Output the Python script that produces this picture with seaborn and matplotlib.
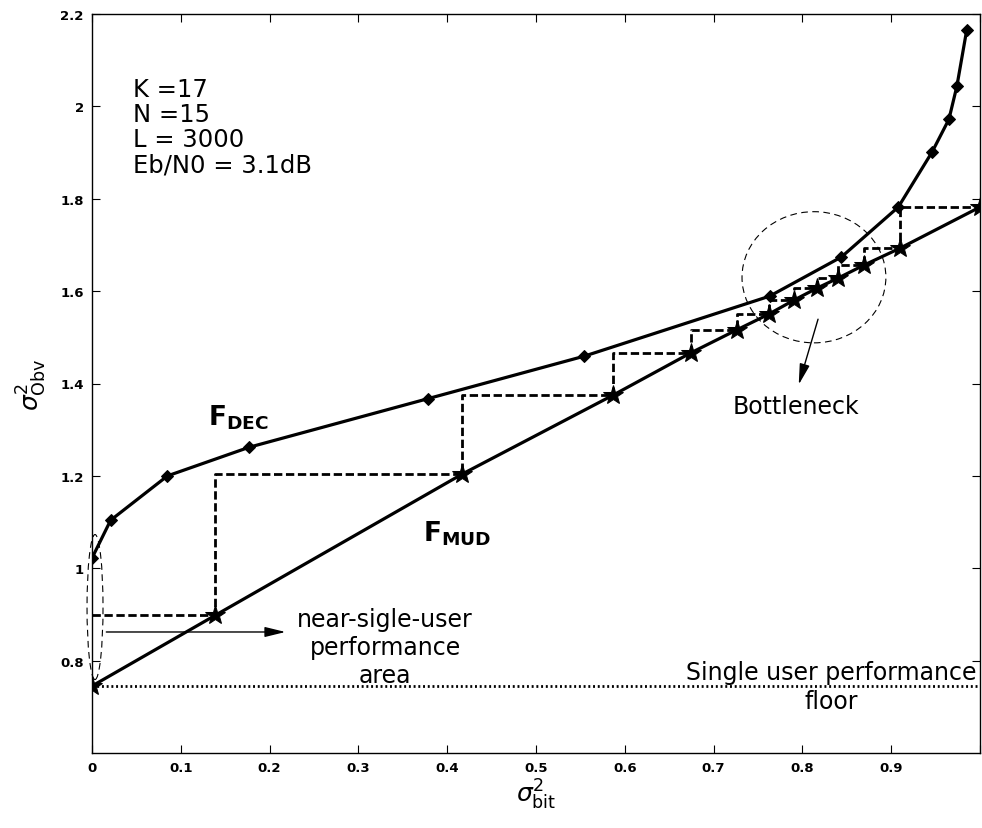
import matplotlib
matplotlib.use("Agg")
import numpy as np
import pandas as pd
import seaborn as sns
import matplotlib.pyplot as plt
from matplotlib.patches import Ellipse

# ---------------- data ----------------
dec_x = [0.0, 0.021, 0.085, 0.177, 0.378, 0.554, 0.763, 0.844, 0.908, 0.946, 0.965, 0.974, 0.985]
dec_y = [1.022, 1.104, 1.200, 1.262, 1.367, 1.459, 1.589, 1.674, 1.782, 1.901, 1.972, 2.044, 2.165]

mud_x = [0.0, 0.1387, 0.417, 0.587, 0.674, 0.726, 0.762, 0.790, 0.816, 0.840, 0.869, 0.910, 1.0]
mud_y = [0.745, 0.898, 1.204, 1.375, 1.466, 1.516, 1.550, 1.580, 1.606, 1.628, 1.656, 1.693, 1.782]

floor_level = 0.745

x_ticks = [0, 0.1, 0.2, 0.3, 0.4, 0.5, 0.6, 0.7, 0.8, 0.9, 1.0]
x_tick_labels = ["0", "0.1", "0.2", "0.3", "0.4", "0.5", "0.6", "0.7", "0.8", "0.9", ""]
y_ticks = [0.8, 1.0, 1.2, 1.4, 1.6, 1.8, 2.0, 2.2]
y_tick_labels = ["0.8", "1", "1.2", "1.4", "1.6", "1.8", "2", "2.2"]

params_text = "K =17\nN =15\nL = 3000\nEb/N0 = 3.1dB"

# ---------------- style ----------------
sns.set_style("ticks")
plt.rcParams["font.family"] = ["DejaVu Sans"]
plt.rcParams["mathtext.fontset"] = "dejavusans"
plt.rcParams["text.color"] = "black"
plt.rcParams["axes.labelcolor"] = "black"
plt.rcParams["xtick.color"] = "black"
plt.rcParams["ytick.color"] = "black"

fig = plt.figure(figsize=(9.82, 8.29), dpi=100)
ax = fig.add_axes([92 / 982, 1 - 754 / 829, (980 - 92) / 982, (754 - 15) / 829])

dec_df = pd.DataFrame({"x": dec_x, "y": dec_y})
mud_df = pd.DataFrame({"x": mud_x, "y": mud_y})

# staircase (trajectory) between successive F_MUD points
stair_x = np.concatenate([[0.0], mud_x[1:]])
stair_y = np.concatenate([[mud_y[1]], mud_y[1:]])
ax.plot(stair_x, stair_y, drawstyle="steps-pre", color="black", lw=2.0,
        ls=(0, (3, 1.3)), zorder=2)

# single user floor
ax.axhline(floor_level, color="black", lw=2.0, ls=(0, (0.7, 1.0)), zorder=2)

sns.lineplot(data=dec_df, x="x", y="y", ax=ax, color="black", lw=2.3,
             marker="D", markersize=6, markeredgecolor="black",
             estimator=None, sort=False, zorder=3)
sns.lineplot(data=mud_df, x="x", y="y", ax=ax, color="black", lw=2.3,
             marker="*", markersize=15, markeredgecolor="black",
             estimator=None, sort=False, zorder=3)

# dashed ellipses
ax.add_patch(Ellipse((0.0034, 0.916), 0.018, 0.314, fill=False, ec="black",
                     lw=0.8, ls=(0, (6, 4)), zorder=2, clip_on=False))
ax.add_patch(Ellipse((0.813, 1.630), 0.162, 0.284, fill=False, ec="black",
                     lw=0.8, ls=(0, (6, 4)), zorder=2))

# arrows
ax.annotate("", xy=(0.221, 0.862), xytext=(0.013, 0.862),
            arrowprops=dict(arrowstyle="-|>,head_length=0.9,head_width=0.22",
                            color="black", lw=1.0, mutation_scale=14))
ax.annotate("", xy=(0.795, 1.392), xytext=(0.8185, 1.545),
            arrowprops=dict(arrowstyle="-|>,head_length=0.9,head_width=0.22",
                            color="black", lw=1.0, mutation_scale=14))

# texts
ax.text(0.046, 2.063, params_text, ha="left", va="top", fontsize=17.5, linespacing=1.05)
ax.text(0.131, 1.329, r"$\mathbf{F}_{\mathbf{DEC}}$", ha="left", va="center", fontsize=19)
ax.text(0.373, 1.076, r"$\mathbf{F}_{\mathbf{MUD}}$", ha="left", va="center", fontsize=19)
ax.text(0.7926, 1.351, "Bottleneck", ha="center", va="center", fontsize=17)
ax.text(0.330, 0.829, "near-sigle-user\nperformance\narea", ha="center", va="center",
        fontsize=17, linespacing=1.2)
ax.text(0.832, 0.744, "Single user performance\nfloor", ha="center", va="center",
        fontsize=17, linespacing=1.25)

# axes
ax.set_xlim(0, 1)
ax.set_ylim(0.6, 2.2)
ax.set_xticks(x_ticks)
ax.set_xticklabels(x_tick_labels, fontsize=9.5, fontweight="bold")
ax.set_yticks(y_ticks)
ax.set_yticklabels(y_tick_labels, fontsize=9.5, fontweight="bold")
ax.tick_params(direction="in", length=6, width=0.8, top=True, right=True, pad=6)
for s in ax.spines.values():
    s.set_linewidth(1.0)
    s.set_color("black")

ax.set_xlabel(r"$\sigma^2_{\mathrm{bit}}$", fontsize=18, labelpad=2)
ax.set_ylabel(r"$\sigma^2_{\mathrm{Obv}}$", fontsize=18, labelpad=8)

fig.savefig("out.png", dpi=100)
